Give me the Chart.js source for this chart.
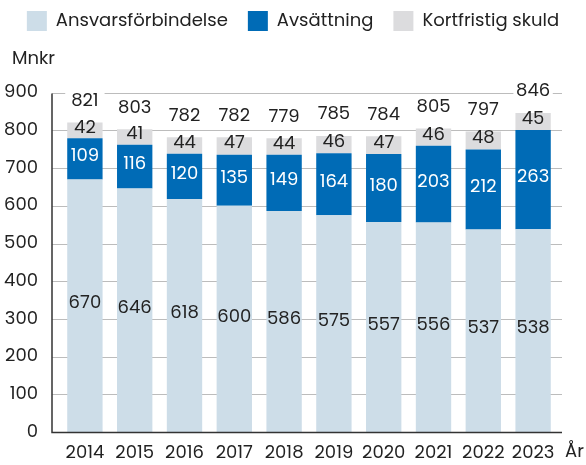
<!DOCTYPE html>
<html>
<head>
<meta charset="utf-8">
<script src="https://cdn.jsdelivr.net/npm/chart.js@4/dist/chart.umd.min.js"></script>
<style>
	html, body { margin: 0; padding: 0; background: #fff; }
	#wrap { width: 586px; height: 465px; }
</style>
</head>
<body>
<div id="wrap"><canvas id="chart-skuld"></canvas></div>
<script>
// Data
const years = ['2014', '2015', '2016', '2017', '2018', '2019', '2020', '2021', '2022', '2023'];
const ansvarsforbindelse = [670, 646, 618, 600, 586, 575, 557, 556, 537, 538];
const avsattning = [109, 116, 120, 135, 149, 164, 180, 203, 212, 263];
const kortfristig = [42, 41, 44, 47, 44, 46, 47, 46, 48, 45];
const totals = [821, 803, 782, 782, 779, 785, 784, 805, 797, 846];
const yMax = 900;
const yStep = 100;

const fontFamily = 'Poppins, Inter, sans-serif';
const fontSize = 18;
const textColor = '#222222';

// gridlines, axis lines and the extra texts
const skuldPlugin = {
	id: 'skuldPlugin',
	beforeDatasetsDraw(chart) {
		const ctx = chart.ctx;
		const area = chart.chartArea;
		const y = chart.scales.y;
		const x0 = area.left - 8;
		const x1 = area.right + 4;
		ctx.save();
		ctx.strokeStyle = '#bcbcbc';
		ctx.lineWidth = 1.2;
		y.ticks.forEach(t => {
			if (t.value == 0) return;
			const py = Math.round(y.getPixelForValue(t.value)) + 0.5;
			ctx.beginPath();
			ctx.moveTo(x0, py);
			ctx.lineTo(x1, py);
			ctx.stroke();
		});
		ctx.restore();
	},
	afterDatasetsDraw(chart) {
		const ctx = chart.ctx;
		const area = chart.chartArea;
		const y = chart.scales.y;
		const x0 = area.left - 8;
		const x1 = area.right + 4;
		const yTop = Math.round(y.getPixelForValue(yMax)) + 0.5;
		const yBot = Math.round(y.getPixelForValue(0)) + 0.5;

		ctx.save();
		ctx.font = fontSize + 'px ' + fontFamily;
		ctx.textAlign = 'center';
		ctx.textBaseline = 'middle';

		// segment labels
		chart.data.datasets.forEach((ds, i) => {
			const meta = chart.getDatasetMeta(i);
			meta.data.forEach((bar, j) => {
				const p = bar.getProps(['x', 'y', 'base'], true);
				ctx.fillStyle = ds.labelColor;
				ctx.fillText(ds.data[j], p.x, (p.y + p.base) / 2 - 2);
			});
		});

		// totals, white box cuts the gridline
		const top = chart.getDatasetMeta(2);
		top.data.forEach((bar, j) => {
			const p = bar.getProps(['x', 'y', 'width'], true);
			const cy = p.y - 21;
			ctx.fillStyle = '#ffffff';
			ctx.fillRect(p.x - p.width / 2 - 2, cy - 10, p.width + 4, 20);
			ctx.fillStyle = textColor;
			ctx.fillText(totals[j], p.x, cy);
		});

		// axis lines
		ctx.strokeStyle = '#333333';
		ctx.lineWidth = 1.5;
		ctx.beginPath();
		ctx.moveTo(x0, yTop);
		ctx.lineTo(x0, yBot);
		ctx.lineTo(x1, yBot);
		ctx.stroke();

		// units
		ctx.fillStyle = textColor;
		ctx.textAlign = 'left';
		ctx.fillText('År', area.right + 7, yBot + 20);
		ctx.fillText('Mnkr', 12, 59);
		ctx.restore();
	}
};

const configSkuld = {
	type: 'bar',
	data: {
		labels: years,
		datasets: [{
			label: 'Ansvarsförbindelse',
			data: ansvarsforbindelse,
			backgroundColor: '#cddde8',
			labelColor: '#222222'
		}, {
			label: 'Avsättning',
			data: avsattning,
			backgroundColor: '#006bb6',
			labelColor: '#ffffff'
		}, {
			label: 'Kortfristig skuld',
			data: kortfristig,
			backgroundColor: '#dcdcde',
			labelColor: '#222222'
		}]
	},
	options: {
		responsive: true,
		maintainAspectRatio: false,
		animation: false,
		layout: {
			padding: { top: -9, left: 0, right: 0, bottom: 0 }
		},
		datasets: {
			bar: {
				barPercentage: 0.71,
				categoryPercentage: 1
			}
		},
		scales: {
			x: {
				stacked: true,
				grid: { display: false, drawTicks: false },
				border: { display: false },
				ticks: {
					color: textColor,
					padding: 10,
					font: { family: fontFamily, size: fontSize }
				},
				afterFit: function(scale) { scale.height = 28; }
			},
			y: {
				stacked: true,
				min: 0,
				max: yMax,
				grid: { display: false, drawTicks: false },
				border: { display: false },
				ticks: {
					stepSize: yStep,
					color: textColor,
					padding: 22,
					font: { family: fontFamily, size: fontSize }
				},
				afterFit: function(scale) { scale.width = 60; }
			},
			// room on the right for "År"
			yRight: {
				type: 'linear',
				position: 'right',
				grid: { display: false, drawTicks: false },
				border: { display: false },
				ticks: { display: false },
				afterFit: function(scale) { scale.width = 28; }
			}
		},
		plugins: {
			tooltip: { enabled: false },
			legend: {
				display: true,
				position: 'top',
				labels: {
					boxWidth: 20,
					boxHeight: 20,
					padding: 20,
					color: textColor,
					font: { family: fontFamily, size: fontSize }
				}
			},
			// spacer between legend and plot, "Mnkr" is drawn by the plugin
			title: {
				display: true,
				text: 'Mnkr',
				color: 'rgba(0,0,0,0)',
				font: { family: fontFamily, size: fontSize, weight: 'normal' },
				padding: { top: 15, bottom: 15 }
			}
		}
	},
	plugins: [skuldPlugin]
};

// title goes under the legend
configSkuld.options.plugins.title.weight = 500;

const ctx = document.getElementById('chart-skuld').getContext('2d');
const chartSkuld = new Chart(ctx, configSkuld);
</script>
</body>
</html>
